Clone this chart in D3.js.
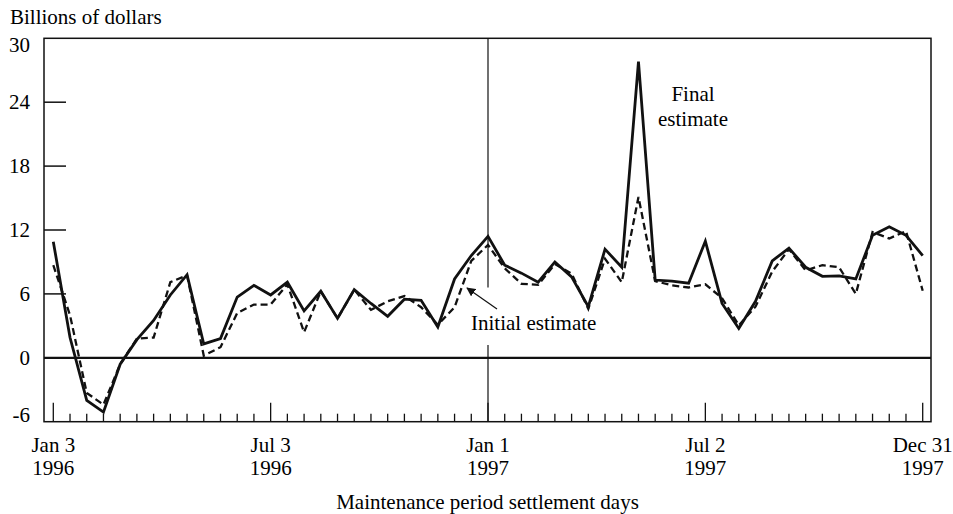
<!DOCTYPE html>
<html>
<head>
<meta charset="utf-8">
<script src="https://cdn.jsdelivr.net/npm/d3@7"></script>
<style>
  body { margin: 0; background: #fff; }
</style>
</head>
<body>
<div id="chart"></div>
<script>
// Settlement days, every two weeks from Jan 3 1996 to Dec 31 1997
var firstDay = new Date(1996, 0, 3);
var periodCount = 53;

// Final estimate (billions of dollars)
var finalEst = [10.9, 1.9, -4.0, -5.1, -0.6, 1.7, 3.5, 5.9, 7.8, 1.3,
    1.8, 5.7, 6.8, 5.9, 7.1, 4.4, 6.25, 3.7, 6.4, 5.1,
    3.9, 5.5, 5.4, 2.9, 7.4, 9.6, 11.4, 8.7, 7.95, 7.1,
    9.0, 7.6, 4.8, 10.2, 8.5, 27.8, 7.3, 7.2, 7.0, 10.95,
    5.1, 2.75, 5.3, 9.1, 10.3, 8.5, 7.65, 7.7, 7.4, 11.5,
    12.3, 11.5, 9.6];

// Initial estimate (billions of dollars)
var initialEst = [8.7, 4.0, -3.3, -4.4, -0.6, 1.8, 1.9, 7.1, 7.75, 0.2,
    1.0, 4.2, 5.0, 5.0, 6.9, 2.4, 6.25, 3.7, 6.4, 4.5,
    5.3, 5.8, 4.75, 3.1, 4.75, 9.1, 10.6, 8.4, 6.95, 6.85,
    8.8, 7.9, 4.6, 9.3, 7.1, 15.1, 7.2, 6.8, 6.6, 6.9,
    5.6, 3.05, 4.8, 8.1, 10.2, 8.2, 8.7, 8.5, 6.0, 11.8,
    11.2, 11.9, 6.3];

var yTicks = [-6, 0, 6, 12, 18, 24, 30];
var majorDays = [new Date(1996, 0, 3), new Date(1996, 6, 3), new Date(1997, 0, 1),
    new Date(1997, 6, 2), new Date(1997, 11, 31)];
var majorLabels = [["Jan 3", "1996"], ["Jul 3", "1996"], ["Jan 1", "1997"],
    ["Jul 2", "1997"], ["Dec 31", "1997"]];

var width = 953, height = 514;
var frame = {left: 44, right: 931, top: 38.3, bottom: 421.7};
var serif = "'Liberation Serif', 'Times New Roman', Times, serif";
var fontSize = "21px";

var days = d3.range(periodCount).map(function (i) {
    return d3.timeDay.offset(firstDay, 14 * i);
});

var xScale = d3.scaleTime()
    .domain([days[0], days[days.length - 1]])
    .range([53.3, 922.7]);

var yScale = d3.scaleLinear()
    .domain([-6, 30])
    .range([frame.bottom, frame.top]);

var svg = d3.select("#chart").append("svg")
    .attr("width", width)
    .attr("height", height)
    .attr("font-family", serif)
    .style("font-family", serif);

// Frame
svg.append("rect")
    .attr("x", frame.left)
    .attr("y", frame.top)
    .attr("width", frame.right - frame.left)
    .attr("height", frame.bottom - frame.top)
    .attr("fill", "none")
    .attr("stroke", "#111")
    .attr("stroke-width", 1.5);

// Y ticks (inside) and labels
svg.selectAll(".ytick")
    .data(yTicks.filter(function (d) { return d > -6 && d < 30 && d !== 0; }))
    .enter().append("line")
    .attr("x1", frame.left).attr("x2", frame.left + 22)
    .attr("y1", function (d) { return yScale(d); })
    .attr("y2", function (d) { return yScale(d); })
    .attr("stroke", "#111").attr("stroke-width", 1.5);

svg.selectAll(".ylab")
    .data(yTicks)
    .enter().append("text")
    .attr("x", 30)
    .attr("y", function (d) {
        // end labels are pulled inside the frame
        if (d === 30) return yScale(d) + 14;
        if (d === -6) return yScale(d) - 0;
        return yScale(d) + 7;
    })
    .attr("text-anchor", "end")
    .style("font-size", fontSize)
    .text(function (d) { return d; });

// Zero line
svg.append("line")
    .attr("x1", frame.left).attr("x2", frame.right)
    .attr("y1", yScale(0)).attr("y2", yScale(0))
    .attr("stroke", "#111").attr("stroke-width", 2.2);

// Year divider at Jan 1 1997, broken round the label
svg.append("line")
    .attr("x1", xScale(majorDays[2])).attr("x2", xScale(majorDays[2]))
    .attr("y1", yScale(30)).attr("y2", yScale(6.6))
    .attr("stroke", "#111").attr("stroke-width", 1.2);
svg.append("line")
    .attr("x1", xScale(majorDays[2])).attr("x2", xScale(majorDays[2]))
    .attr("y1", yScale(1.2)).attr("y2", yScale(-6))
    .attr("stroke", "#111").attr("stroke-width", 1.2);

// X ticks: minor every period, major at labelled days
var majorKeys = majorDays.map(function (d) { return +d; });
svg.selectAll(".xtick")
    .data(days)
    .enter().append("line")
    .attr("x1", function (d) { return xScale(d); })
    .attr("x2", function (d) { return xScale(d); })
    .attr("y1", frame.bottom)
    .attr("y2", function (d) { return majorKeys.indexOf(+d) >= 0 ? frame.bottom - 19 : frame.bottom - 8; })
    .attr("stroke", "#111").attr("stroke-width", 1.3);

majorDays.forEach(function (d, i) {
    var t = svg.append("text")
        .attr("x", xScale(d))
        .attr("y", 452)
        .attr("text-anchor", "middle")
        .style("font-size", fontSize);
    t.append("tspan").attr("x", xScale(d)).text(majorLabels[i][0]);
    t.append("tspan").attr("x", xScale(d)).attr("dy", 23).text(majorLabels[i][1]);
});

// Series
var line = d3.line()
    .x(function (d, i) { return xScale(days[i]); })
    .y(function (d) { return yScale(d); });

svg.append("path")
    .datum(initialEst)
    .attr("d", line)
    .attr("fill", "none")
    .attr("stroke", "#111")
    .attr("stroke-width", 2.3)
    .attr("stroke-dasharray", "7,4");

svg.append("path")
    .datum(finalEst)
    .attr("d", line)
    .attr("fill", "none")
    .attr("stroke", "#111")
    .attr("stroke-width", 2.8)
    .attr("stroke-linejoin", "miter");

// Annotations
svg.append("text")
    .attr("x", 10).attr("y", 24)
    .style("font-size", fontSize)
    .text("Billions of dollars");

svg.append("text")
    .attr("x", 693).attr("y", 101)
    .attr("text-anchor", "middle")
    .style("font-size", fontSize)
    .text("Final");
svg.append("text")
    .attr("x", 693).attr("y", 126)
    .attr("text-anchor", "middle")
    .style("font-size", fontSize)
    .text("estimate");

svg.append("text")
    .attr("x", 471).attr("y", 330)
    .style("font-size", fontSize)
    .text("Initial estimate");

svg.append("defs").append("marker")
    .attr("id", "arrow")
    .attr("viewBox", "0 0 10 10")
    .attr("refX", 9).attr("refY", 5)
    .attr("markerWidth", 9).attr("markerHeight", 9)
    .attr("markerUnits", "userSpaceOnUse")
    .attr("orient", "auto")
    .append("path")
    .attr("d", "M0,0L10,5L0,10z")
    .attr("fill", "#111");

svg.append("line")
    .attr("x1", 497).attr("y1", 309)
    .attr("x2", 467).attr("y2", 288)
    .attr("stroke", "#111").attr("stroke-width", 1.2)
    .attr("marker-end", "url(#arrow)");

svg.append("text")
    .attr("x", (frame.left + frame.right) / 2).attr("y", 509)
    .attr("text-anchor", "middle")
    .style("font-size", fontSize)
    .text("Maintenance period settlement days");
</script>
</body>
</html>
